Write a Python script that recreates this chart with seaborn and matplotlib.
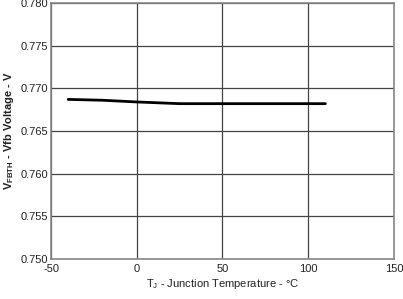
import matplotlib
matplotlib.use("Agg")
import matplotlib.pyplot as plt
import seaborn as sns
import pandas as pd

temps = [-40, -20, 0, 25, 50, 85, 110]
vfb = [0.7687, 0.7686, 0.7684, 0.7682, 0.7682, 0.7682, 0.7682]
xticks = [-50, 0, 50, 100, 150]
yticks = [0.750, 0.755, 0.760, 0.765, 0.770, 0.775, 0.780]

sns.set_theme(style="white")
plt.rcParams['font.family'] = ['Liberation Sans', 'DejaVu Sans']
plt.rcParams['mathtext.fontset'] = 'custom'
plt.rcParams['mathtext.rm'] = 'Liberation Sans'
plt.rcParams['mathtext.bf'] = 'Liberation Sans:bold'

df = pd.DataFrame({"T": temps, "V": vfb})
fig = plt.figure(figsize=(4.03, 2.99), dpi=100)
ax = fig.add_axes([0.1266, 0.134, 0.851, 0.856])
sns.lineplot(data=df, x="T", y="V", ax=ax, color="black", linewidth=2)
ax.set_xlim(-50, 150)
ax.set_ylim(0.750, 0.780)
ax.set_xticks(xticks)
ax.set_yticks(yticks)
ax.set_xticklabels([str(t) for t in xticks], fontsize=8, color="#222222")
ax.set_yticklabels([f"{t:.3f}" for t in yticks], fontsize=8, color="#222222")
ax.tick_params(axis="x", length=0, pad=4)
ax.tick_params(axis="y", length=0, pad=2)
ax.grid(True, color="#444444", linewidth=0.9)
for s in ax.spines.values():
    s.set_color("#888888")
    s.set_linewidth(1.2)
ax.set_xlabel(r"T$_\mathregular{J}$ - Junction Temperature - °C", fontsize=8, color="#222222", labelpad=2)
ax.set_ylabel(r"V$_\mathbf{FBTH}$ - Vfb Voltage - V", fontsize=8, fontweight="bold", color="#222222", labelpad=3)
fig.savefig("out.png", dpi=100)
